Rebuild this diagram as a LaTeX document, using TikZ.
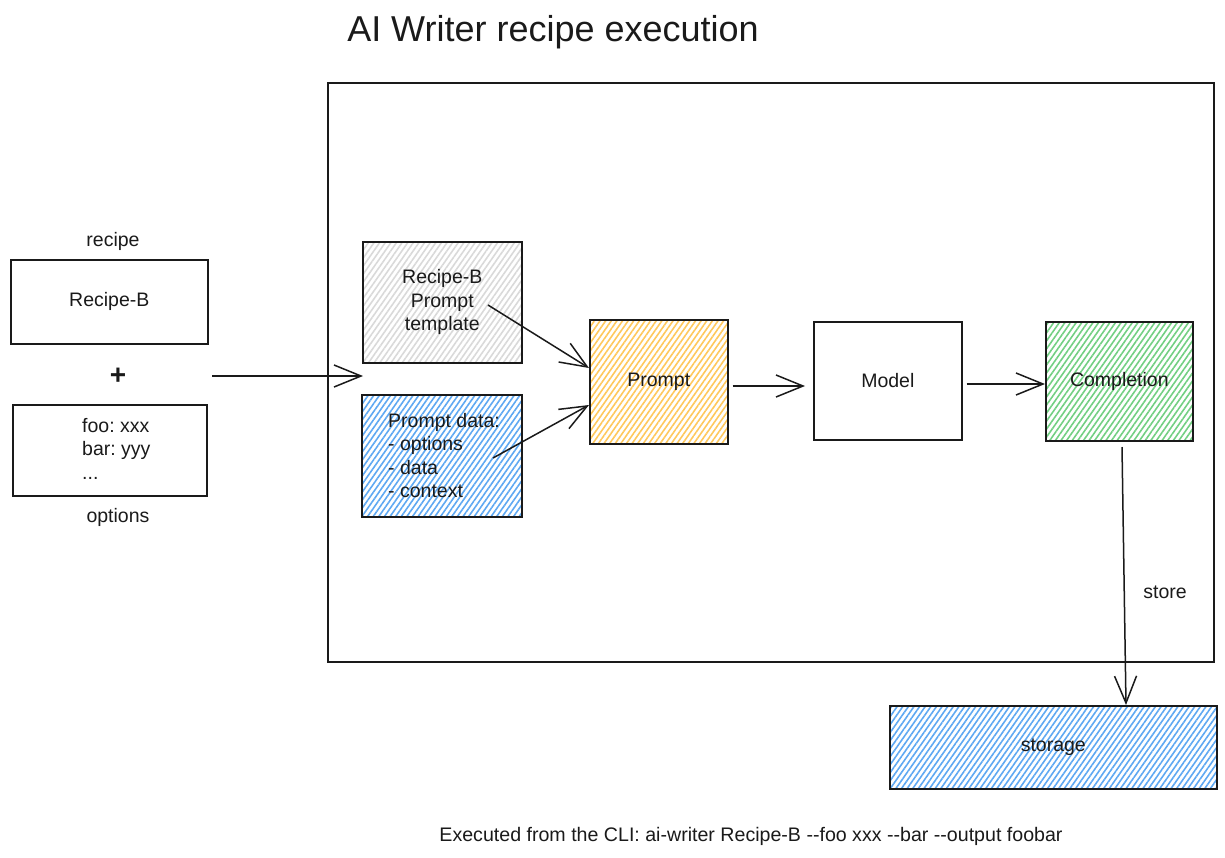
\documentclass[tikz,border=0pt]{standalone}
\usepackage{fontspec}
\setmainfont{Liberation Sans}
\usetikzlibrary{arrows.meta,patterns.meta}
\frenchspacing
\definecolor{ink}{HTML}{1A1A1A}
\definecolor{hgray}{HTML}{D9D9D9}
\definecolor{hblue}{HTML}{5EA8F2}
\definecolor{horange}{HTML}{FFC85C}
\definecolor{hgreen}{HTML}{72CF82}
\tikzset{
  x=1pt, y=-1pt,
  txt/.style={font=\fontsize{19.5}{23.5}\selectfont, text=ink, inner sep=0pt},
  boxnode/.style={draw=ink, line width=1.6pt, inner sep=0pt, anchor=north west,
    font=\fontsize{19.5}{23.5}\selectfont, text=ink, align=center},
  hatch/.style={pattern={Lines[angle=55,distance=4.6pt,line width=1.6pt]}, pattern color=#1},
  conn/.style={draw=ink, line width=1.5pt, -{Straight Barb[length=27pt,width=22pt,line width=1.5pt]}},
}
\begin{document}
\begin{tikzpicture}
\useasboundingbox (0,0) rectangle (1225,857);
% title
\node[txt, font=\fontsize{36}{40}\selectfont] (title) at (553,32) {AI Writer recipe execution};
% frame
\node[draw=ink, line width=1.6pt, anchor=north west, minimum width=886pt, minimum height=579pt, inner sep=0pt] (frame) at (327,82) {};
% left side
\node[txt] (recipelbl) at (113,241) {recipe};
\node[boxnode, minimum width=197pt, minimum height=84pt] (recipe) at (10,259) {Recipe-B};
\node[txt, font=\fontsize{28}{30}\selectfont\bfseries] (plus) at (118,376) {+};
\node[boxnode, minimum width=194pt, minimum height=91pt] (opts) at (12,404) {};
\node[txt, align=left, anchor=north west] (optstxt) at (82,418) {foo: xxx\\bar: yyy\\...};
\node[txt] (optslbl) at (118,517) {options};
% inner boxes
\node[boxnode, hatch=hgray, minimum width=159pt, minimum height=121pt] (tmpl) at (362,241) {Recipe-B\\Prompt\\template};
\node[boxnode, hatch=hblue, minimum width=160pt, minimum height=122pt] (pdata) at (361,394) {};
\node[txt, align=left, anchor=north west] (pdatatxt) at (388,413) {Prompt data:\\- options\\- data\\- context};
\node[boxnode, hatch=horange, minimum width=138pt, minimum height=124pt] (prompt) at (589,319) {Prompt};
\node[boxnode, minimum width=148pt, minimum height=118pt] (model) at (813,321) {Model};
\node[boxnode, hatch=hgreen, minimum width=147pt, minimum height=119pt] (compl) at (1045,321) {Completion};
\node[boxnode, hatch=hblue, minimum width=327pt, minimum height=83pt] (storage) at (889,705) {storage};
\node[txt] (storelbl) at (1165,592) {store};
\node[txt, font=\fontsize{19.6}{22}\selectfont] (cli) at (751,836) {Executed from the CLI: ai-writer Recipe-B {-}{-}foo xxx {-}{-}bar {-}{-}output foobar};
% connectors
\coordinate (inS) at (212,376);
\coordinate (inE) at (363,376);
\draw[conn] (inS) -- (inE);
\coordinate (tS) at (488,305);
\draw[conn] (tS) -- (prompt.west |- 0,368);
\coordinate (dS) at (493,458);
\draw[conn] (dS) -- (prompt.west |- 0,405);
\draw[conn] (prompt.east |- 0,386) ++(4,0) -- (805,386);
\draw[conn] (model.east |- 0,384) ++(4,0) -- (compl.west |- 0,384);
\coordinate (sS) at (1122,447);
\draw[conn] (sS) -- (storage.north -| 1126,0);
\end{tikzpicture}
\end{document}
